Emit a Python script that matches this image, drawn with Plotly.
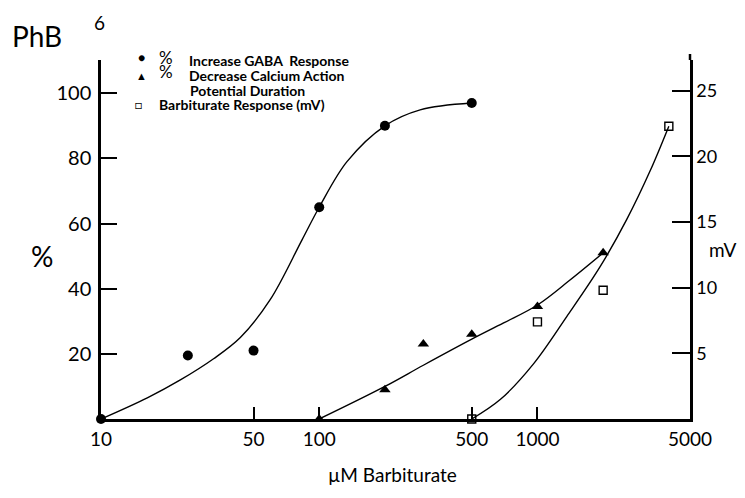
import plotly.graph_objects as go

# ---- data ----
gaba_x = [10, 25, 50, 100, 200, 500]
gaba_y = [0, 19.5, 21.0, 65, 90, 97]

ca_x = [100, 200, 300, 500, 1000, 2000]
ca_y = [0, 9, 23, 26, 34.5, 51]

barb_x = [500, 1000, 2000, 4000]
barb_mv = [0, 7.4, 9.8, 22.3]

# hand-drawn fitted curves
gaba_fit_x = [10, 16.3, 23.1, 32.8, 43.5, 59.7, 83.4, 100, 134, 200, 290, 500]
gaba_fit_y = [0, 6.5, 12, 18.5, 25, 36.7, 55, 65, 79, 90, 94.9, 97]

ca_fit_x = [100, 200, 300, 500, 700, 1000, 1400, 2000]
ca_fit_y = [0, 10, 16.5, 24.5, 29.5, 35, 42.5, 51]

barb_fit_x = [500, 677, 959, 1362, 1937, 2566, 3284, 4000]
barb_fit_mv = [0, 1.5, 4.2, 7.8, 11.6, 15.2, 18.9, 22.3]

x_ticks = [10, 50, 100, 500, 1000, 5000]
x_tick_labels = ["10", "50", "100", "500", "1000", "5000"]
y_ticks = [20, 40, 60, 80, 100]
y2_ticks = [5, 10, 15, 20, 25]

FONT = "Lato"
OFF = 8                      # page body margin
W, H = 745 - 2 * OFF, 498 - 2 * OFF
# plot-area edges in window pixels
L, R, T, B = 100.5, 690, 60, 419.5


def px(x):
    return (x - L) / (R - L)


def py(y):
    return (B - y) / (B - T)


fig = go.Figure()
line_style = dict(color="black", width=1.4, shape="spline", smoothing=1.0)

fig.add_trace(go.Scatter(x=gaba_fit_x, y=gaba_fit_y, mode="lines", line=line_style,
                         showlegend=False, hoverinfo="skip"))
fig.add_trace(go.Scatter(x=ca_fit_x, y=ca_fit_y, mode="lines", line=line_style,
                         showlegend=False, hoverinfo="skip"))
fig.add_trace(go.Scatter(x=barb_fit_x, y=barb_fit_mv, mode="lines", line=line_style,
                         yaxis="y2", showlegend=False, hoverinfo="skip"))

fig.add_trace(go.Scatter(x=gaba_x, y=gaba_y, mode="markers", cliponaxis=False,
                         marker=dict(symbol="circle", size=10, color="black"),
                         name="% Increase GABA Response", showlegend=False))
fig.add_trace(go.Scatter(x=ca_x, y=ca_y, mode="markers", cliponaxis=False,
                         marker=dict(symbol="triangle-up", size=10, color="black"),
                         name="% Decrease Calcium Action Potential Duration", showlegend=False))
fig.add_trace(go.Scatter(x=barb_x, y=barb_mv, mode="markers", yaxis="y2", cliponaxis=False,
                         marker=dict(symbol="square-open", size=8, color="black",
                                     line=dict(width=1.4, color="black")),
                         name="Barbiturate Response (mV)", showlegend=False))

fig.update_layout(
    width=W, height=H,
    margin=dict(l=L - OFF, r=W - (R - OFF), t=T - OFF, b=H - (B - OFF), autoexpand=False),
    paper_bgcolor="white", plot_bgcolor="white",
    xaxis=dict(type="log", range=[1, 3.699], tickvals=x_ticks, ticktext=x_tick_labels,
               ticks="inside", ticklen=12, tickwidth=2.2, tickcolor="black",
               showline=True, linecolor="black", linewidth=2.5, showgrid=False,
               zeroline=False, ticklabelstandoff=1,
               tickfont=dict(family=FONT, size=19, color="black")),
    yaxis=dict(range=[0, 110.2], tickvals=y_ticks, ticks="inside", ticklen=16,
               tickwidth=2.2, tickcolor="black", showline=True, linecolor="black",
               linewidth=2.5, showgrid=False, zeroline=False, ticklabelstandoff=3,
               tickfont=dict(family=FONT, size=20, color="black")),
    yaxis2=dict(range=[0, 27.34], overlaying="y", side="right", tickvals=y2_ticks,
                ticks="inside", ticklen=18, tickwidth=2.2, tickcolor="black",
                showline=True, linecolor="black", linewidth=2.5, showgrid=False,
                zeroline=False, ticklabelstandoff=0,
                tickfont=dict(family=FONT, size=18, color="black")),
    showlegend=False,
)

# slight extension of the right axis above the plot top, as in the original
fig.add_shape(type="line", xref="paper", yref="paper", x0=1, x1=1, y0=1, y1=py(54),
              line=dict(color="black", width=2.5))

ann = []


def add_text(x, y, text, size, xanchor="left", yanchor="middle"):
    ann.append(dict(x=px(x), y=py(y), xref="paper", yref="paper", text=text,
                    showarrow=False, xanchor=xanchor, yanchor=yanchor,
                    font=dict(family=FONT, size=size, color="black")))


add_text(9, 36, "PhB", 28)
add_text(99, 22, "6", 19, xanchor="center")
add_text(41, 256, "%", 28, xanchor="center")
add_text(707, 250, "mV", 19)
add_text(392, 489, "µM Barbiturate", 19, xanchor="center", yanchor="bottom")

# legend
add_text(141.5, 57.5, "●", 12, xanchor="center")
add_text(141.5, 76, "▲", 11, xanchor="center")
add_text(138.5, 104.5, "□", 12, xanchor="center")
add_text(157, 57, "%", 17)
add_text(157, 72, "%", 17)
add_text(187, 60, "<b>Increase GABA  Response</b>", 14)
add_text(187, 76, "<b>Decrease Calcium Action</b>", 14)
add_text(188, 90.5, "<b>Potential Duration</b>", 14)
add_text(157, 104.5, "<b>Barbiturate Response (mV)</b>", 14)

fig.update_layout(annotations=ann)

fig.write_html("out.html")
